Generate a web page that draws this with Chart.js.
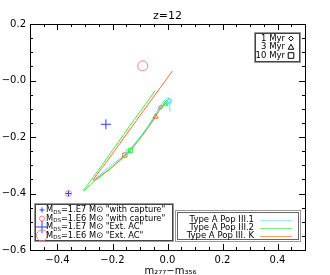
<!DOCTYPE html>
<html>
<head>
<meta charset="utf-8">
<script src="https://cdn.jsdelivr.net/npm/chart.js@4"></script>
<style>
  html, body { margin: 0; padding: 0; background: #fff; }
  #wrap { width: 330px; height: 275px; }
</style>
</head>
<body>
<div id="wrap"><canvas id="zChart"></canvas></div>
<script>
// tracks (m277 - m356 on x, colour on y)
const popIII1X = [-0.26, -0.2, -0.15, -0.1, -0.07, -0.045, -0.025, -0.012, -0.004, 0.005, 0.012, 0.01, 0.004, 0.008, 0.009];
const popIII1Y = [-0.345, -0.297, -0.258, -0.2, -0.16, -0.12, -0.088, -0.072, -0.064, -0.062, -0.072, -0.085, -0.08, -0.093, -0.11];
const popIII2X = [0.0, -0.004, -0.012, -0.025, -0.045, -0.07, -0.1, -0.134, -0.18, -0.23, -0.27, -0.306, -0.28, -0.24, -0.2, -0.16, -0.12, -0.08, -0.045];
const popIII2Y = [-0.068, -0.078, -0.086, -0.1, -0.127, -0.164, -0.205, -0.247, -0.29, -0.33, -0.36, -0.391, -0.356, -0.302, -0.247, -0.192, -0.137, -0.084, -0.036];
const popIIIKX = [-0.015, -0.025, -0.043, -0.07, -0.1, -0.155, -0.2, -0.24, -0.27, -0.22, -0.16, -0.1, -0.04, 0.018];
const popIIIKY = [-0.085, -0.095, -0.128, -0.166, -0.206, -0.264, -0.305, -0.335, -0.353, -0.286, -0.205, -0.124, -0.044, 0.034];

// 1, 3, 10 Myr markers on each track
const ageLabels = ['1 Myr', '3 Myr', '10 Myr'];
const ageStyles = ['rectRot', 'triangle', 'rect'];
const popIII1AgeX = [0.008, 0.004, -0.142];
const popIII1AgeY = [-0.07, -0.074, -0.252];
const popIII2AgeX = [-0.004, -0.008, -0.134];
const popIII2AgeY = [-0.078, -0.084, -0.247];
const popIIIKAgeX = [-0.025, -0.043, -0.155];
const popIIIKAgeY = [-0.095, -0.128, -0.264];

// dark star models
const dsLabels = ['1.E7', '1.E6', '1.E7', '1.E6'];
const dsCases = ['"with capture"', '"with capture"', '"Ext. AC"', '"Ext. AC"'];
const dsX = [-0.36, -0.36, -0.224, -0.09];
const dsY = [-0.4, -0.4, -0.155, 0.052];

const trackLabels = ['Type A Pop III.1', 'Type A Pop III.2', 'Type A Pop III. K'];
const xTickLabels = ['\u22120.4', '\u22120.2', '0.0', '0.2', '0.4'];
const yTickLabels = ['\u22120.6', '\u22120.4', '\u22120.2', '\u22120.0', '0.2'];

const cCyan = '#5fdcf2';
const cGreen = '#3de83d';
const cOrange = '#ff6a26';
const cBlue = '#2a3cff';
const cPink = '#f08484';
const FONT = '"DejaVu Sans", sans-serif';

function pts(xs, ys) {
  return xs.map((x, i) => ({ x: x, y: ys[i] }));
}

function track(label, xs, ys, color) {
  return {
    label: label, data: pts(xs, ys), showLine: true, borderColor: color,
    borderWidth: 1, pointRadius: 0, tension: 0.25, order: 3
  };
}

function ages(xs, ys, color) {
  return {
    data: pts(xs, ys), showLine: false, borderColor: color, backgroundColor: 'rgba(0,0,0,0)',
    borderWidth: 1, pointStyle: ageStyles, pointRadius: [2.2, 3, 3], order: 2
  };
}

function labelIndex(v, arr, start) {
  const k = Math.round((v - start) / 0.2);
  if (Math.abs(v - (start + k * 0.2)) > 1e-6) return '';
  return arr[k] || '';
}

function subText(ctx, parts, x, y) {
  // parts: [text, isSub]
  let cx = x;
  parts.forEach(p => {
    ctx.font = p[1] ? '5.5px ' + FONT : '8.3px ' + FONT;
    ctx.fillText(p[0], cx, p[1] ? y + 2.5 : y);
    cx += ctx.measureText(p[0]).width;
  });
}

function drawMark(ctx, style, x, y, r, color) {
  ctx.save();
  ctx.strokeStyle = color;
  ctx.lineWidth = 1;
  ctx.beginPath();
  if (style === 'cross') {
    ctx.moveTo(x - r, y); ctx.lineTo(x + r, y);
    ctx.moveTo(x, y - r); ctx.lineTo(x, y + r);
  } else if (style === 'circle') {
    ctx.arc(x, y, r, 0, Math.PI * 2);
  } else if (style === 'rectRot') {
    ctx.moveTo(x, y - r); ctx.lineTo(x + r, y); ctx.lineTo(x, y + r); ctx.lineTo(x - r, y); ctx.closePath();
  } else if (style === 'triangle') {
    ctx.moveTo(x, y - r); ctx.lineTo(x + r, y + r * 0.8); ctx.lineTo(x - r, y + r * 0.8); ctx.closePath();
  } else {
    ctx.rect(x - r, y - r, 2 * r, 2 * r);
  }
  ctx.stroke();
  ctx.restore();
}

const idlFrame = {
  id: 'idlFrame',
  afterDraw(chart) {
    const ctx = chart.ctx;
    const ca = chart.chartArea;
    const xs = chart.scales.x, ys = chart.scales.y;
    ctx.save();
    ctx.strokeStyle = '#000';
    ctx.lineWidth = 1;
    ctx.strokeRect(Math.round(ca.left) + 0.5, Math.round(ca.top) + 0.5,
      Math.round(ca.right - ca.left), Math.round(ca.bottom - ca.top));
    ctx.beginPath();
    xs.ticks.forEach(t => {
      const px = Math.round(xs.getPixelForValue(t.value)) + 0.5;
      const len = t.label ? 6 : 3;
      ctx.moveTo(px, ca.bottom); ctx.lineTo(px, ca.bottom - len);
      ctx.moveTo(px, ca.top); ctx.lineTo(px, ca.top + len);
    });
    ys.ticks.forEach(t => {
      const py = Math.round(ys.getPixelForValue(t.value)) + 0.5;
      const len = t.label ? 6 : 3;
      ctx.moveTo(ca.left, py); ctx.lineTo(ca.left + len, py);
      ctx.moveTo(ca.right, py); ctx.lineTo(ca.right - len, py);
    });
    ctx.stroke();

    // title and axis titles
    ctx.fillStyle = '#000';
    ctx.textAlign = 'center';
    ctx.textBaseline = 'middle';
    ctx.font = '11px ' + FONT;
    ctx.fillText('z=12', (ca.left + ca.right) / 2, 16);
    ctx.font = '10px ' + FONT;
    ctx.fillText('m\u2082\u2087\u2087\u2212m\u2083\u2085\u2086', (ca.left + ca.right) / 2 + 3, 271);
    ctx.save();
    ctx.translate(-3, (ca.top + ca.bottom) / 2 - 12);
    ctx.rotate(-Math.PI / 2);
    ctx.fillText('m\u2081\u2085\u2080\u2212m\u2082\u2087\u2087', 0, 0);
    ctx.restore();

    // age legend (top right)
    ctx.fillStyle = '#fff';
    ctx.fillRect(254, 32, 46, 30);
    ctx.strokeStyle = '#999';
    ctx.strokeRect(254.5, 32.5, 46, 30);
    ctx.strokeStyle = '#444';
    ctx.strokeRect(255.5, 33.5, 44, 28);
    ctx.fillStyle = '#000';
    ctx.textAlign = 'right';
    ctx.font = '8.5px ' + FONT;
    ageLabels.forEach((s, i) => {
      const y = 38.5 + i * 8.5;
      ctx.fillText(s, 285, y);
      drawMark(ctx, ageStyles[i], 291, y, i === 0 ? 2.4 : 2.8, '#000');
    });

    // dark star legend (lower left)
    ctx.fillStyle = '#fff';
    ctx.fillRect(35, 204, 138, 37);
    ctx.strokeStyle = '#999';
    ctx.strokeRect(34.5, 203.5, 139, 38);
    ctx.strokeStyle = '#444';
    ctx.strokeRect(35.5, 204.5, 137, 36);
    ctx.textAlign = 'left';
    ctx.fillStyle = '#000';
    const dsStyles = ['cross', 'circle', 'cross', 'circle'];
    const dsR = [2.5, 2.5, 6, 5.5];
    const dsC = [cBlue, cPink, cBlue, cPink];
    dsLabels.forEach((m, i) => {
      const y = 210 + i * 8.5;
      drawMark(ctx, dsStyles[i], 42, y, dsR[i], dsC[i]);
      ctx.fillStyle = '#000';
      subText(ctx, [['M', false], ['DS', true], ['=' + m + ' M\u2299 ' + dsCases[i], false]], 46, y);
    });

    // track legend (lower right)
    ctx.fillStyle = '#fff';
    ctx.fillRect(176, 211, 124, 30);
    ctx.strokeStyle = '#999';
    ctx.strokeRect(175.5, 210.5, 125, 31);
    ctx.strokeStyle = '#666';
    ctx.strokeRect(177.5, 212.5, 121, 27);
    const tc = ['#9fedf7', '#7cf07c', '#ff9a6a'];
    ctx.font = '8.5px ' + FONT;
    trackLabels.forEach((s, i) => {
      const y = 219.5 + i * 8.2;
      ctx.fillStyle = '#000';
      ctx.textAlign = 'right';
      ctx.fillText(s, 254, y);
      ctx.strokeStyle = tc[i];
      ctx.beginPath();
      ctx.moveTo(260, Math.round(y) + 0.5);
      ctx.lineTo(292, Math.round(y) + 0.5);
      ctx.stroke();
    });
    ctx.restore();
  }
};

const ctx = document.getElementById('zChart').getContext('2d');
new Chart(ctx, {
  type: 'scatter',
  data: {
    datasets: [
      track(trackLabels[0], popIII1X, popIII1Y, cCyan),
      track(trackLabels[1], popIII2X, popIII2Y, cGreen),
      track(trackLabels[2], popIIIKX, popIIIKY, cOrange),
      ages(popIII1AgeX, popIII1AgeY, cCyan),
      ages(popIII2AgeX, popIII2AgeY, cGreen),
      ages(popIIIKAgeX, popIIIKAgeY, cOrange),
      {
        data: pts(dsX, dsY), showLine: false,
        borderColor: [cBlue, cPink, cBlue, cPink], backgroundColor: 'rgba(0,0,0,0)',
        pointStyle: ['cross', 'circle', 'cross', 'circle'],
        pointRadius: [3, 3, 5, 5], borderWidth: 1, order: 1
      }
    ]
  },
  options: {
    responsive: true,
    maintainAspectRatio: false,
    animation: false,
    layout: { padding: { top: 24, right: 25, left: 0, bottom: 0 } },
    plugins: { legend: { display: false }, tooltip: { enabled: false }, title: { display: false } },
    scales: {
      x: {
        type: 'linear', min: -0.5, max: 0.5,
        grid: { display: false, drawTicks: false }, border: { display: false },
        afterFit: s => { s.height = 25; },
        ticks: {
          stepSize: 0.05, padding: 4, color: '#000', autoSkip: false, maxRotation: 0,
          font: { family: FONT, size: 10 },
          callback: v => labelIndex(v, xTickLabels, -0.4)
        }
      },
      y: {
        type: 'linear', min: -0.6, max: 0.2,
        grid: { display: false, drawTicks: false }, border: { display: false },
        afterFit: s => { s.width = 30; },
        ticks: {
          stepSize: 0.05, padding: 4, color: '#000', autoSkip: false,
          font: { family: FONT, size: 10 },
          callback: v => labelIndex(v, yTickLabels, -0.6)
        }
      }
    }
  },
  plugins: [idlFrame]
});
</script>
</body>
</html>
